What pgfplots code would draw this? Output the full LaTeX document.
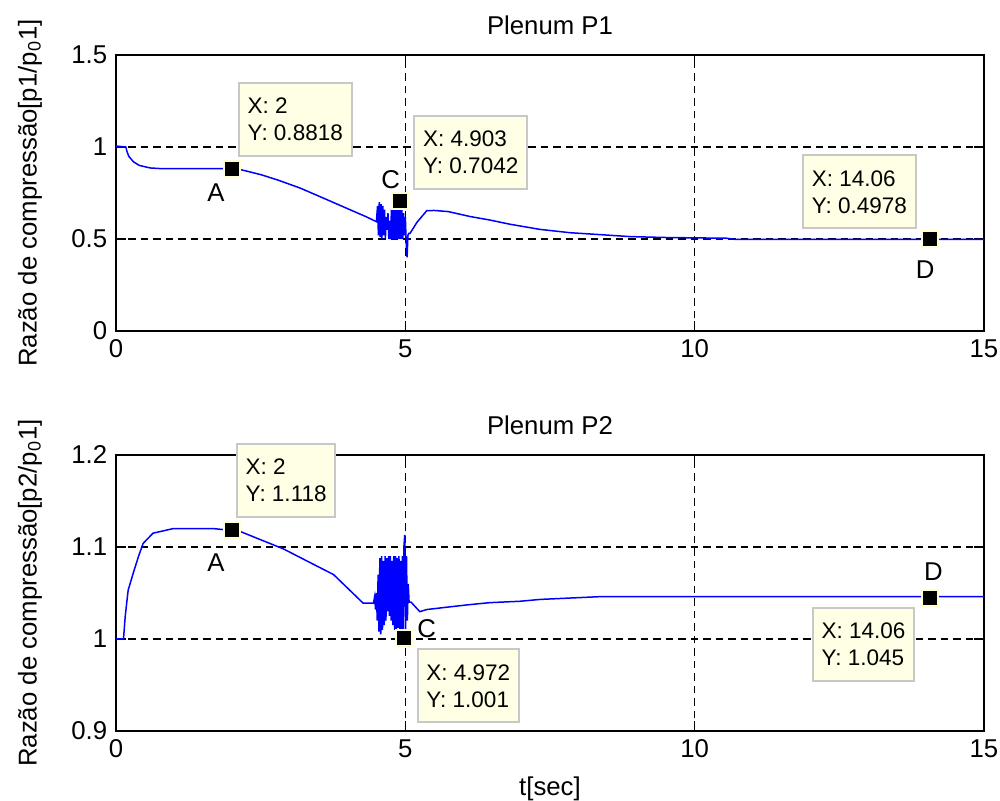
\documentclass[border=0pt]{standalone}
\usepackage{pgfplots}
\pgfplotsset{compat=1.18}
\usepackage{fontspec}
\setmainfont{Liberation Sans}

\definecolor{tipfill}{RGB}{255,255,229}
\definecolor{tipedge}{RGB}{200,200,200}
\definecolor{mkedge}{RGB}{255,255,210}

\pgfplotsset{
 mlab/.style={scale only axis,width=347.2pt,height=110.4pt,
  xmin=0,xmax=15,xtick={0,5,10,15},
  grid=major,major grid style={black,dash pattern=on 3pt off 2pt,line width=0.5pt},
  tick align=inside,major tick length=4pt,
  axis line style={line width=0.6pt},tick style={black,line width=0.5pt},
  tick label style={font=\fontsize{10.3}{12}\selectfont},
  /pgf/number format/assume math mode=true,
  title style={font=\fontsize{10.3}{12}\selectfont,at={(0.5,1)},anchor=base,yshift=2pt},
  ylabel style={font=\fontsize{10.3}{12}\selectfont,at={(axis description cs:-0.099,0.5)},anchor=center},
  xlabel style={font=\fontsize{10.3}{12}\selectfont,at={(0.5,0)},anchor=base,yshift=-26pt},
  clip=false},
 curve/.style={blue,line width=0.6pt,mark=none},
 tipmark/.style={only marks,mark=square*,mark size=3.2pt,
  mark options={fill=black,draw=mkedge,line width=0.8pt}},
}
\tikzset{
 tip/.style={draw=tipedge,fill=tipfill,line width=0.8pt,align=left,
  font=\fontsize{9}{10.8}\selectfont,inner xsep=3.5pt,inner ysep=6pt},
 lab/.style={font=\fontsize{10.3}{12}\selectfont,inner sep=0pt}
}

\begin{document}
\begin{tikzpicture}
\path[use as bounding box] (-46.4pt,-28pt) rectangle (353.6pt,292.4pt);

% Plenum P1
\begin{axis}[mlab,at={(0,160pt)},ymin=0,ymax=1.5,ytick={0,0.5,1,1.5},
 title={Plenum P1},ylabel={Razão de compressão[p1/p\textsubscript{0}1]}]
\addplot[curve] coordinates {
(0,1.005)(0.17,1.0)(0.19,0.975)(0.22,0.95)(0.3,0.92)(0.4,0.9)(0.59,0.886)(0.8,0.882)
(1.5,0.882)(2,0.8818)(2.14,0.878)(2.5,0.85)(2.8,0.82)(3.18,0.777)(3.6,0.72)(4.0,0.665)
(4.33,0.62)(4.5,0.594)
(4.52,0.68)(4.535,0.52)(4.55,0.70)(4.565,0.51)(4.58,0.69)(4.595,0.50)(4.61,0.68)(4.625,0.52)
(4.64,0.66)(4.655,0.50)(4.67,0.62)(4.685,0.55)(4.70,0.64)(4.715,0.50)(4.73,0.60)(4.745,0.50)
(4.76,0.66)(4.775,0.50)(4.79,0.67)(4.805,0.50)(4.82,0.68)(4.835,0.50)(4.85,0.67)(4.865,0.50)
(4.88,0.66)(4.895,0.50)(4.905,0.704)(4.925,0.50)(4.94,0.66)(4.955,0.50)(4.97,0.64)(4.985,0.52)
(5.00,0.62)(5.015,0.48)(5.03,0.40)(5.045,0.52)(5.06,0.53)
(5.08,0.53)(5.2,0.59)(5.37,0.654)(5.5,0.655)(5.74,0.649)(6.12,0.622)(6.46,0.603)(6.81,0.58)
(7.33,0.552)(7.85,0.534)(8.25,0.526)(8.88,0.513)(9.5,0.508)(10.55,0.504)(10.7,0.498)(15,0.4978)};
\addplot[tipmark] coordinates {(2,0.8818)(4.903,0.7042)(14.06,0.4978)};
\node[lab] at (axis cs:2,0.8818) [xshift=-6.3pt,yshift=-9.7pt] {A};
\node[lab] at (axis cs:4.903,0.7042) [xshift=-3.6pt,yshift=8.6pt] {C};
\node[lab] at (axis cs:14.06,0.4978) [xshift=-1.8pt,yshift=-12.2pt] {D};
\node[tip,anchor=south west] at (axis cs:2,0.8818) [xshift=2.5pt,yshift=4.7pt] {X: 2\\Y: 0.8818};
\node[tip,anchor=south west] at (axis cs:4.903,0.7042) [xshift=5.5pt,yshift=4.6pt] {X: 4.903\\Y: 0.7042};
\node[tip,anchor=south east] at (axis cs:14.06,0.4978) [xshift=-5.2pt,yshift=4pt] {X: 14.06\\Y: 0.4978};
\end{axis}

% Plenum P2
\begin{axis}[mlab,at={(0,0)},ymin=0.9,ymax=1.2,ytick={0.9,1,1.1,1.2},
 title={Plenum P2},ylabel={Razão de compressão[p2/p\textsubscript{0}1]},xlabel={t[sec]}]
\addplot[curve] coordinates {
(0,1.0)(0.13,1.0)(0.16,1.025)(0.21,1.053)(0.3,1.072)(0.39,1.09)(0.47,1.104)(0.64,1.115)
(0.99,1.12)(1.68,1.12)(2,1.118)(2.14,1.117)(2.89,1.098)(3.76,1.07)(4.27,1.039)(4.45,1.039)
(4.47,1.046)(4.485,1.032)(4.50,1.05)(4.515,1.02)(4.53,1.07)(4.545,1.008)(4.56,1.088)(4.575,1.005)
(4.59,1.09)(4.605,1.01)(4.62,1.085)(4.635,1.015)(4.65,1.09)(4.665,1.02)(4.68,1.088)(4.695,1.03)
(4.71,1.09)(4.725,1.025)(4.74,1.09)(4.755,1.02)(4.77,1.085)(4.785,1.015)(4.80,1.09)(4.815,1.01)
(4.83,1.09)(4.845,1.008)(4.86,1.088)(4.875,1.012)(4.89,1.09)(4.905,1.01)(4.92,1.085)(4.935,1.005)
(4.95,1.09)(4.965,1.002)(4.975,1.10)(4.99,1.113)(5.005,1.01)(5.02,1.09)(5.035,1.02)(5.05,1.06)
(5.065,1.04)
(5.1,1.04)(5.25,1.0297)(5.37,1.032)(5.71,1.0345)(6.06,1.037)(6.46,1.0395)(6.98,1.041)
(7.33,1.043)(8.36,1.046)(15,1.046)};
\addplot[tipmark] coordinates {(2,1.118)(4.972,1.001)(14.06,1.045)};
\node[lab] at (axis cs:2,1.118) [xshift=-6.3pt,yshift=-13pt] {A};
\node[lab] at (axis cs:4.972,1.001) [xshift=9.2pt,yshift=3.9pt] {C};
\node[lab] at (axis cs:14.06,1.045) [xshift=1.5pt,yshift=10.4pt] {D};
\node[tip,anchor=south west] at (axis cs:2,1.118) [xshift=1.7pt,yshift=5pt] {X: 2\\Y: 1.118};
\node[tip,anchor=north west] at (axis cs:4.972,1.001) [xshift=5.2pt,yshift=-4.1pt] {X: 4.972\\Y: 1.001};
\node[tip,anchor=north east] at (axis cs:14.06,1.045) [xshift=-5.8pt,yshift=-3.6pt] {X: 14.06\\Y: 1.045};
\end{axis}
\end{tikzpicture}
\end{document}
